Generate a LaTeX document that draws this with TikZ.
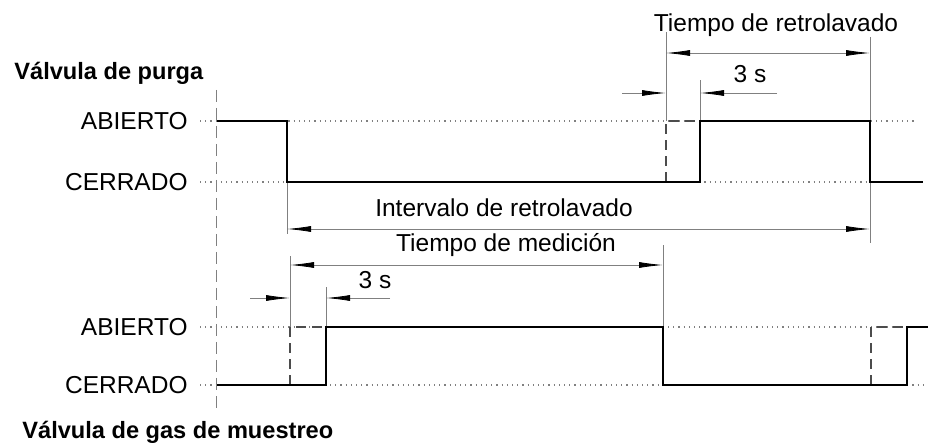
\documentclass[tikz,border=0pt]{standalone}
\usepackage{fontspec}
\setmainfont{Liberation Sans}
\usetikzlibrary{arrows.meta,positioning}

\begin{document}
\begin{tikzpicture}[
		x=0.5pt, y=-0.5pt,
		font=\fontsize{12.25}{14}\selectfont,
		title/.style={font=\fontsize{11.8}{14}\selectfont\bfseries, anchor=west, inner sep=0pt},
		state/.style={anchor=east, inner sep=0pt},
		signal/.style={line width=1.4pt},
		level/.style={gray, dotted, line width=0.6pt},
		guide/.style={gray, line width=0.4pt},
		hidden/.style={black!70, dash pattern=on 5pt off 3pt, line width=0.6pt},
		dimtip/.tip={Latex[length=12pt,width=3pt,black]},
		dim/.style={guide, dimtip-dimtip},
		dimin/.style={guide, -dimtip}
	]
	\useasboundingbox (0,0) rectangle (928,444);

	% titles and states
	\node[title] (purge) at (14,73) {Válvula de purga};
	\node[title] (sample) at (22,432) {Válvula de gas de muestreo};
	\node[state] (p open) at (188,121) {ABIERTO};
	\node[state] (p closed) at (188,182) {CERRADO};
	\node[state] (s open) at (188,327) {ABIERTO};
	\node[state] (s closed) at (188,385) {CERRADO};

	% time axis
	\draw[gray, dash pattern=on 6pt off 3pt, line width=0.5pt] (216,90) -- (216,412);

	% levels
	\draw[level] ([xshift=6pt]p open.east) -- (915,121);
	\draw[level] ([xshift=6pt]p closed.east) -- (870,182);
	\draw[level] ([xshift=6pt]s open.east) -- (907,327);
	\draw[level] ([xshift=6pt]s closed.east) -- (928,385);

	% guides
	\coordinate (bw start) at (666,121);
	\coordinate (bw open) at (700,121);
	\coordinate (bw end) at (870,121);
	\coordinate (p shut) at (287,182);
	\coordinate (m start) at (290,327);
	\coordinate (m open) at (326,327);
	\coordinate (m end) at (663,327);

	\draw[guide] (bw start) -- +(0,-89);
	\draw[guide] (bw open) -- +(0,-41);
	\draw[guide] (bw end) -- +(0,-84) (bw end) -- +(0,122);
	\draw[guide] (p shut) -- +(0,52);
	\draw[guide] (m start) -- +(0,-71);
	\draw[guide] (m open) -- +(0,-40);
	\draw[guide] (m end) -- +(0,-82);

	% hidden edges (without delay)
	\draw[hidden] (666,182) -- (bw start) -- (bw open);
	\draw[hidden] (290,385) -- (m start) -- (m open);
	\draw[hidden] (871,385) -- (871,327) -- (907,327);

	% signals
	\draw[signal] (217,121) -- (287,121) -- (p shut) -- (700,182) -- (bw open)
		-- (bw end) -- (870,182) -- (923,182);
	\draw[signal] (217,385) -- (326,385) -- (m open) -- (m end) -- (663,385)
		-- (907,385) -- (907,327) -- (928,327);

	% dimensions
	\coordinate (rt l) at (666,53);
	\coordinate (rt r) at (870,53);
	\draw[dim] (rt l) -- (rt r);
	\node (rt label) at (776,25) {Tiempo de retrolavado};

	\coordinate (d1 a) at (622,93);
	\coordinate (d1 b) at (666,93);
	\coordinate (d1 c) at (777,93);
	\coordinate (d1 d) at (700,93);
	\draw[dimin] (d1 a) -- (d1 b);
	\draw[dimin] (d1 c) -- (d1 d);
	\node (d1 label) at (750,74) {3 s};

	\coordinate (iv l) at (287,229);
	\coordinate (iv r) at (870,229);
	\draw[dim] (iv l) -- (iv r);
	\node (iv label) at (504,208) {Intervalo de retrolavado};

	\coordinate (tm l) at (290,265);
	\coordinate (tm r) at (663,265);
	\draw[dim] (tm l) -- (tm r);
	\node (tm label) at (506,245) {Tiempo de medición};

	\coordinate (d2 a) at (250,298);
	\coordinate (d2 b) at (290,298);
	\coordinate (d2 c) at (390,298);
	\coordinate (d2 d) at (326,298);
	\draw[dimin] (d2 a) -- (d2 b);
	\draw[dimin] (d2 c) -- (d2 d);
	\node (d2 label) at (375,280) {3 s};
\end{tikzpicture}
\end{document}
